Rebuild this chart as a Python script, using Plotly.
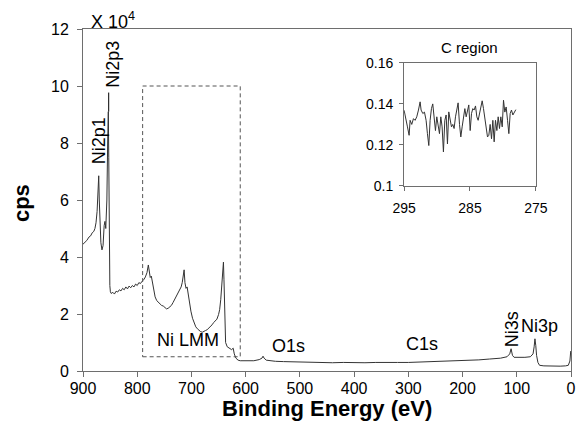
import plotly.graph_objects as go

# ---- Main survey spectrum (binding energy in eV, intensity in units of 10^4 cps) ----
energy_main = [
    900, 897, 893, 889, 886, 883, 880, 878, 876, 874, 872.5, 871, 870, 868.5, 867, 865, 863,
    861, 859.5, 858, 856, 854.5, 853.3, 852.5, 851.5, 850.5, 849.5, 848, 845, 842, 839, 836,
    833, 830, 827, 824, 821, 818, 815, 812, 809, 806, 803, 800, 797, 794, 791, 788, 785, 782,
    779.5, 778, 776, 774, 772, 770, 767, 764, 761, 758, 755, 752, 749, 746, 743, 740, 737, 734,
    731, 728, 725, 722, 719, 717, 715, 713.5, 712, 710, 708, 706, 704, 701, 698, 695, 692, 689,
    686, 683, 680, 677, 674, 671, 668, 665, 662, 659, 656, 653, 650, 648, 646, 644, 642, 641,
    640, 639, 637, 634, 630, 626, 623, 621, 618, 614, 610, 605, 595, 585, 575, 570, 568, 566,
    562, 555, 545, 530, 515, 500, 480, 460, 440, 420, 400, 380, 360, 340, 320, 300, 285, 270,
    250, 230, 210, 190, 170, 150, 130, 118, 113, 110.5, 108, 105, 95, 85, 75, 70, 68, 66.5,
    65, 63.5, 61, 58, 50, 40, 30, 20, 10, 5, 2, 0.5,
]
cps_main = [
    4.45, 4.50, 4.58, 4.70, 4.74, 4.85, 4.90, 5.00, 5.20, 5.60, 6.20, 6.85, 6.00, 5.00, 4.50, 4.25, 4.40,
    5.10, 5.25, 5.00, 6.00, 8.00, 9.10, 7.50, 4.50, 3.00, 2.78, 2.72, 2.76, 2.70, 2.80, 2.77,
    2.85, 2.81, 2.90, 2.85, 2.95, 2.88, 2.98, 2.92, 3.00, 2.95, 3.05, 3.00, 3.10, 3.07, 3.15, 3.20, 3.30, 3.45,
    3.72, 3.50, 3.28, 3.33, 3.10, 2.80, 2.60, 2.47, 2.40, 2.35, 2.30, 2.28, 2.22, 2.18, 2.20, 2.25, 2.30, 2.40,
    2.50, 2.60, 2.70, 2.80, 2.95, 3.10, 3.30, 3.55, 3.10, 2.90, 2.95, 2.68, 2.40, 2.10, 1.85, 1.70, 1.55, 1.48,
    1.42, 1.38, 1.36, 1.38, 1.42, 1.45, 1.50, 1.55, 1.62, 1.70, 1.75, 1.82, 1.98, 2.15, 2.50, 3.00, 3.50, 3.82,
    3.20, 2.00, 1.00, 0.85, 0.80, 0.75, 0.80, 0.60, 0.45, 0.38, 0.36, 0.36, 0.35, 0.36, 0.40, 0.45, 0.52, 0.45,
    0.38, 0.36, 0.34, 0.33, 0.32, 0.31, 0.30, 0.30, 0.29, 0.30, 0.29, 0.29, 0.30, 0.29, 0.30, 0.30, 0.31, 0.30,
    0.32, 0.33, 0.35, 0.37, 0.39, 0.42, 0.45, 0.50, 0.60, 0.78, 0.55, 0.48, 0.47, 0.48, 0.50, 0.60, 0.85, 1.13,
    0.90, 0.55, 0.30, 0.20, 0.18, 0.17, 0.17, 0.17, 0.18, 0.20, 0.35, 0.70,
]

# ---- Inset: C region (binding energy in eV, intensity) ----
energy_c = [
    295.00, 294.75, 294.49, 294.24, 294.09, 293.84, 293.58, 293.33, 293.08, 292.82, 292.57, 292.42,
    292.16, 291.91, 291.66, 291.46, 291.25, 291.05, 290.85, 290.65, 290.44, 290.24, 290.04, 289.84,
    289.63, 289.43, 289.23, 289.03, 288.82, 288.62, 288.42, 288.22, 288.01, 287.81, 287.61, 287.41,
    287.20, 287.00, 286.80, 286.59, 286.39, 286.19, 285.99, 285.78, 285.58, 285.38, 285.18, 284.97,
    284.77, 284.57, 284.37, 284.16, 283.96, 283.76, 283.56, 283.35, 283.15, 282.95, 282.75, 282.54,
    282.34, 282.14, 281.94, 281.73, 281.53, 281.33, 281.13, 280.92, 280.72, 280.52, 280.32, 280.11,
    279.91, 279.71, 279.51, 279.30, 279.10, 278.90, 278.70, 278.49, 278.29, 278.04,
]
cps_c = [
    0.1369, 0.1320, 0.1288, 0.1247, 0.1320, 0.1300, 0.1328, 0.1320, 0.1337, 0.1370, 0.1410, 0.1370,
    0.1353, 0.1360, 0.1320, 0.1255, 0.1197, 0.1320, 0.1377, 0.1400, 0.1320, 0.1270, 0.1337, 0.1288,
    0.1255, 0.1337, 0.1288, 0.1166, 0.1320, 0.1346, 0.1205, 0.1361, 0.1320, 0.1288, 0.1300, 0.1280,
    0.1337, 0.1370, 0.1405, 0.1300, 0.1239, 0.1288, 0.1346, 0.1377, 0.1337, 0.1370, 0.1395, 0.1270,
    0.1353, 0.1377, 0.1370, 0.1390, 0.1337, 0.1320, 0.1353, 0.1380, 0.1415, 0.1377, 0.1328, 0.1270,
    0.1239, 0.1247, 0.1300, 0.1230, 0.1320, 0.1215, 0.1320, 0.1270, 0.1337, 0.1280, 0.1337, 0.1288,
    0.1418, 0.1360, 0.1385, 0.1320, 0.1255, 0.1353, 0.1370, 0.1346, 0.1360, 0.1372,
]

# ---- Tick labels ----
x_ticks = [900, 800, 700, 600, 500, 400, 300, 200, 100, 0]
y_ticks = [0, 2, 4, 6, 8, 10, 12]
inset_x_ticks = [295, 285, 275]
inset_y_ticks = [0.1, 0.12, 0.14, 0.16]
inset_y_labels = ["0.1", "0.12", "0.14", "0.16"]

# ---- Peak labels: (text, energy, value, angle) ----
peak_labels = [
    ("Ni2p1", 870.5, 8.06, -90),
    ("Ni2p3", 844.5, 10.75, -90),
    ("Ni LMM", 706.0, 1.08, 0),
    ("O1s", 521.0, 0.87, 0),
    ("C1s", 275.0, 0.96, 0),
    ("Ni3s", 109.5, 1.45, -90),
    ("Ni3p", 59.0, 1.57, 0),
]

FONT = "Liberation Sans, Arial, sans-serif"
LINE = "#333333"
AXIS = "#6e6e6e"

fig = go.Figure()
fig.add_trace(go.Scatter(x=energy_main, y=cps_main, mode="lines",
                         line=dict(color=LINE, width=1), showlegend=False,
                         xaxis="x", yaxis="y"))
fig.add_trace(go.Scatter(x=energy_c, y=cps_c, mode="lines",
                         line=dict(color=LINE, width=1), showlegend=False,
                         xaxis="x2", yaxis="y2"))

fig.update_layout(
    width=579, height=433, autosize=False, showlegend=False,
    margin=dict(l=83, r=8, t=29, b=62, autoexpand=False),
    paper_bgcolor="white", plot_bgcolor="white",
    font=dict(family=FONT, color="black"),
    xaxis=dict(range=[900, 0], tickvals=x_ticks, ticks="outside", ticklen=5,
               tickcolor=AXIS, showline=True, linecolor=AXIS, linewidth=1, mirror=True,
               showgrid=False, zeroline=False, tickfont=dict(size=16), domain=[0, 1],
               ticklabelstandoff=-2, automargin=False),
    yaxis=dict(range=[0, 12], tickvals=y_ticks, ticks="outside", ticklen=5,
               tickcolor=AXIS, showline=True, linecolor=AXIS, linewidth=1, mirror=True,
               showgrid=False, zeroline=False, tickfont=dict(size=16), domain=[0, 1],
               ticklabelstandoff=5, automargin=False),
    xaxis2=dict(range=[295, 275], tickvals=inset_x_ticks, ticks="outside", ticklen=4,
                tickcolor=AXIS, showline=True, linecolor=AXIS, linewidth=1, mirror=True,
                showgrid=False, zeroline=False, tickfont=dict(size=14),
                domain=[0.658, 0.928], anchor="y2", ticklabelstandoff=5, automargin=False),
    yaxis2=dict(range=[0.1, 0.16], tickvals=inset_y_ticks, ticktext=inset_y_labels,
                ticks="outside", ticklen=4, tickcolor=AXIS, showline=True, linecolor=AXIS,
                linewidth=1, mirror=True, showgrid=False, zeroline=False,
                tickfont=dict(size=14), domain=[0.541, 0.901], anchor="x2",
                ticklabelstandoff=3, automargin=False),
)

# dashed box around Ni LMM region
fig.add_shape(type="rect", xref="x", yref="y", x0=790, x1=610, y0=0.5, y1=10,
              line=dict(color="#555555", width=1, dash="4px,3px"))
# leader line for Ni2p3
fig.add_shape(type="line", xref="x", yref="y", x0=852.6, x1=852.6, y0=9.1, y1=9.77,
              line=dict(color="black", width=1))

for text, ex, vy, ang in peak_labels:
    fig.add_annotation(x=ex, y=vy, xref="x", yref="y", text=text, showarrow=False,
                       textangle=ang, font=dict(size=18, family=FONT, color="black"))

fig.add_annotation(x=0.0123, y=1.026, xref="paper", yref="paper", text="X 10<sup>4</sup>",
                   showarrow=False, xanchor="left", yanchor="middle",
                   font=dict(size=18, family=FONT, color="black"))
fig.add_annotation(x=0.501, y=-0.111, xref="paper", yref="paper", text="<b>Binding Energy (eV)</b>",
                   showarrow=False, xanchor="center", yanchor="middle",
                   font=dict(size=22, family=FONT, color="black"))
fig.add_annotation(x=-0.127, y=0.491, xref="paper", yref="paper", text="<b>cps</b>",
                   showarrow=False, textangle=-90, xanchor="center", yanchor="middle",
                   font=dict(size=22, family=FONT, color="black"))
fig.add_annotation(x=0.793, y=0.945, xref="paper", yref="paper", text="C region",
                   showarrow=False, xanchor="center", yanchor="middle",
                   font=dict(size=15, family=FONT, color="black"))

fig.write_html("out.html", config={"displayModeBar": False},
               post_script="document.body.style.margin='0';document.body.style.overflow='hidden';")
